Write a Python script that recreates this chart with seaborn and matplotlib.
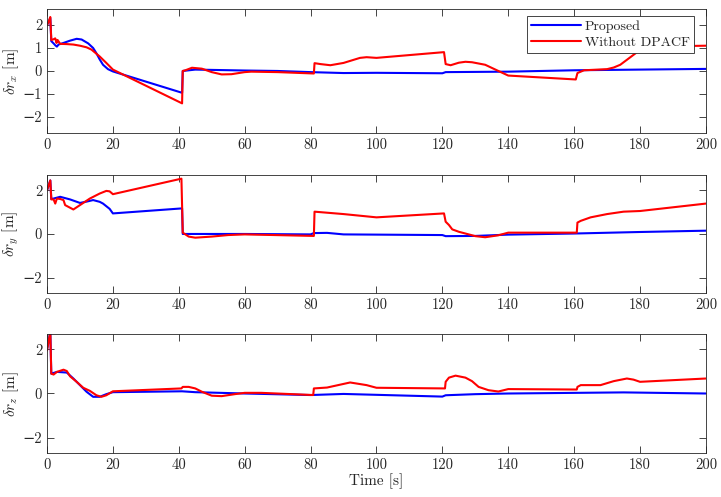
import numpy as np
import pandas as pd
import matplotlib
matplotlib.use("Agg")
import matplotlib.pyplot as plt
import seaborn as sns
import warnings
warnings.filterwarnings("ignore")

# ---------------- data ----------------
tx_prop = [0, 1.0, 1.3, 2.0, 2.5, 3.0, 3.5, 5, 7, 9, 10.5, 12.5, 14, 15, 16, 17, 18.5, 20, 41, 41.2, 45, 60, 70, 80, 90, 100, 120, 121, 140, 160, 200]
vx_prop = [2.0, 2.3, 1.3, 1.2, 1.12, 1.06, 1.15, 1.22, 1.32, 1.40, 1.37, 1.2, 1.0, 0.77, 0.5, 0.27, 0.08, -0.02, -0.95, 0.0, 0.06, 0.02, 0.0, -0.05, -0.09, -0.08, -0.1, -0.05, -0.03, 0.03, 0.09]

tx_wo = [0, 0.5, 1.0, 1.3, 2.0, 2.5, 2.9, 3.2, 4, 6, 8, 10, 12, 13.5, 16, 18, 20, 41, 41.2, 42, 44, 47, 50, 53, 56, 60, 62, 70, 81, 81.2, 83, 86, 90, 95, 97, 100, 120.5, 121, 122.5, 125, 127, 129, 133, 137, 140, 160.5, 161, 163, 170, 172, 174, 178, 180, 183, 200]
vx_wo = [2.0, 2.15, 2.35, 1.35, 1.38, 1.42, 1.22, 1.35, 1.18, 1.17, 1.15, 1.1, 1.03, 0.93, 0.63, 0.35, 0.06, -1.41, 0.0, 0.03, 0.14, 0.1, -0.05, -0.15, -0.14, -0.05, -0.03, -0.05, -0.11, 0.34, 0.3, 0.25, 0.35, 0.57, 0.6, 0.57, 0.82, 0.3, 0.25, 0.36, 0.4, 0.38, 0.27, 0.0, -0.2, -0.37, -0.09, 0.03, 0.08, 0.15, 0.27, 0.7, 0.92, 1.06, 1.1]

ty_prop = [0, 1, 1.3, 2, 4, 7, 10, 12, 14, 16, 17, 19, 20, 41, 41.2, 60, 80, 81, 85, 90, 120, 121, 130, 140, 160, 180, 200]
vy_prop = [2.0, 2.45, 1.6, 1.62, 1.7, 1.58, 1.42, 1.48, 1.55, 1.47, 1.39, 1.15, 0.94, 1.17, 0.0, 0.0, -0.02, 0.04, 0.05, -0.02, -0.05, -0.1, -0.09, -0.03, 0.02, 0.09, 0.15]

ty_wo = [0, 1, 1.3, 2, 2.5, 3, 4, 5, 5.5, 7, 8, 10, 13, 16, 18, 19, 20, 40.8, 41.2, 43, 45, 50, 55, 60, 81, 81.2, 90, 100, 120.5, 121, 122, 123, 125, 130, 133, 137, 140, 160.8, 161, 162, 165, 170, 175, 180, 200]
vy_wo = [2.0, 2.45, 1.58, 1.58, 1.39, 1.62, 1.6, 1.55, 1.32, 1.2, 1.12, 1.32, 1.62, 1.85, 1.97, 1.95, 1.82, 2.53, 0.06, -0.12, -0.17, -0.12, -0.05, -0.02, -0.09, 1.02, 0.91, 0.76, 0.94, 0.56, 0.41, 0.21, 0.1, -0.1, -0.15, -0.06, 0.06, 0.06, 0.52, 0.6, 0.76, 0.91, 1.02, 1.05, 1.39]

tz_prop = [0, 1, 1.3, 3, 6, 8, 10, 12, 14, 16, 18, 20, 41, 45, 60, 80, 90, 120, 121, 130, 140, 175, 200]
vz_prop = [2.0, 2.8, 0.9, 0.98, 0.95, 0.68, 0.38, 0.08, -0.15, -0.15, -0.03, 0.06, 0.1, 0.06, 0.0, -0.07, -0.02, -0.14, -0.08, -0.03, 0.0, 0.05, 0.0]

tz_wo = [0, 1, 1.3, 2, 3, 5, 6, 7, 9, 11, 13, 15, 16.5, 18, 20, 40.8, 41.2, 43, 45, 47, 50, 53, 57, 60, 65, 80.8, 81, 85, 92, 97, 100, 120.8, 121, 122, 124, 127, 129, 131, 134, 137, 140, 160.8, 161, 162, 168, 172, 176, 178, 180, 200]
vz_wo = [1.95, 2.8, 0.9, 0.86, 0.98, 1.08, 1.02, 0.78, 0.53, 0.26, 0.12, -0.08, -0.15, -0.08, 0.1, 0.23, 0.3, 0.3, 0.23, 0.08, -0.1, -0.12, -0.03, 0.03, 0.03, -0.07, 0.23, 0.27, 0.5, 0.38, 0.26, 0.23, 0.53, 0.72, 0.81, 0.72, 0.56, 0.3, 0.15, 0.09, 0.2, 0.18, 0.3, 0.38, 0.38, 0.56, 0.68, 0.63, 0.53, 0.68]

series_names = ["Proposed", "Without DPACF"]
ylabels = [r"$\delta r_x$ [m]", r"$\delta r_y$ [m]", r"$\delta r_z$ [m]"]
xticks = [0, 20, 40, 60, 80, 100, 120, 140, 160, 180, 200]
yticks_list = [[-2, -1, 0, 1, 2], [-2, 0, 2], [-2, 0, 2]]

panels = [
    ((tx_prop, vx_prop), (tx_wo, vx_wo)),
    ((ty_prop, vy_prop), (ty_wo, vy_wo)),
    ((tz_prop, vz_prop), (tz_wo, vz_wo)),
]

# ---------------- style ----------------
sns.set_style("ticks")
plt.rcParams["font.family"] = ["cmr10", "DejaVu Serif"]
plt.rcParams["mathtext.fontset"] = "cm"
plt.rcParams["axes.formatter.use_mathtext"] = False
plt.rcParams["axes.unicode_minus"] = True

colors = {"Proposed": (0, 0, 1), "Without DPACF": (1, 0, 0)}
FS = 10.5

fig = plt.figure(figsize=(7.21, 4.97), dpi=100)
positions = [
    [0.0652, 0.7324, 0.9139, 0.2496],
    [0.0652, 0.4105, 0.9139, 0.2375],
    [0.0652, 0.0885, 0.9139, 0.2395],
]


def fmt(v):
    return ("\u2212" + str(abs(v))) if v < 0 else str(v)


axes = []
for i, (pos, pdata) in enumerate(zip(positions, panels)):
    ax = fig.add_axes(pos)
    frames = []
    for name, (t, v) in zip(series_names, pdata):
        frames.append(pd.DataFrame({"t": t, "v": v, "series": name}))
    df = pd.concat(frames, ignore_index=True)
    sns.lineplot(data=df, x="t", y="v", hue="series", palette=colors,
                 hue_order=series_names, estimator=None, sort=False,
                 linewidth=1.5, ax=ax, legend=(i == 0))
    ax.set_xlim(0, 200)
    ax.set_ylim(-2.7, 2.7)
    ax.set_xticks(xticks)
    ax.set_xticklabels([fmt(v) for v in xticks])
    ax.set_yticks(yticks_list[i])
    ax.set_yticklabels([fmt(v) for v in yticks_list[i]])
    ax.set_ylabel(ylabels[i], fontsize=FS + 0.5)
    ax.yaxis.set_label_coords(-0.040, 0.5)
    ax.set_xlabel("")
    ax.tick_params(direction="in", top=True, right=True, length=5,
                   width=0.6, labelsize=FS, color="0.15", labelcolor="0.15",
                   pad=3.5)
    for s in ax.spines.values():
        s.set_linewidth(0.6)
        s.set_color("0.15")
        s.set_visible(True)
    axes.append(ax)

axes[2].set_xlabel("Time [s]", fontsize=FS + 0.5, labelpad=1)

leg = axes[0].legend(loc="upper right", bbox_to_anchor=(0.982, 0.94),
                     fontsize=10, frameon=True, fancybox=False,
                     edgecolor="0.15", framealpha=1, borderpad=0.3,
                     handlelength=3.6, labelspacing=0.2, handletextpad=0.3,
                     borderaxespad=0.0)
leg.get_frame().set_linewidth(0.6)

fig.savefig("out.png", dpi=100)
